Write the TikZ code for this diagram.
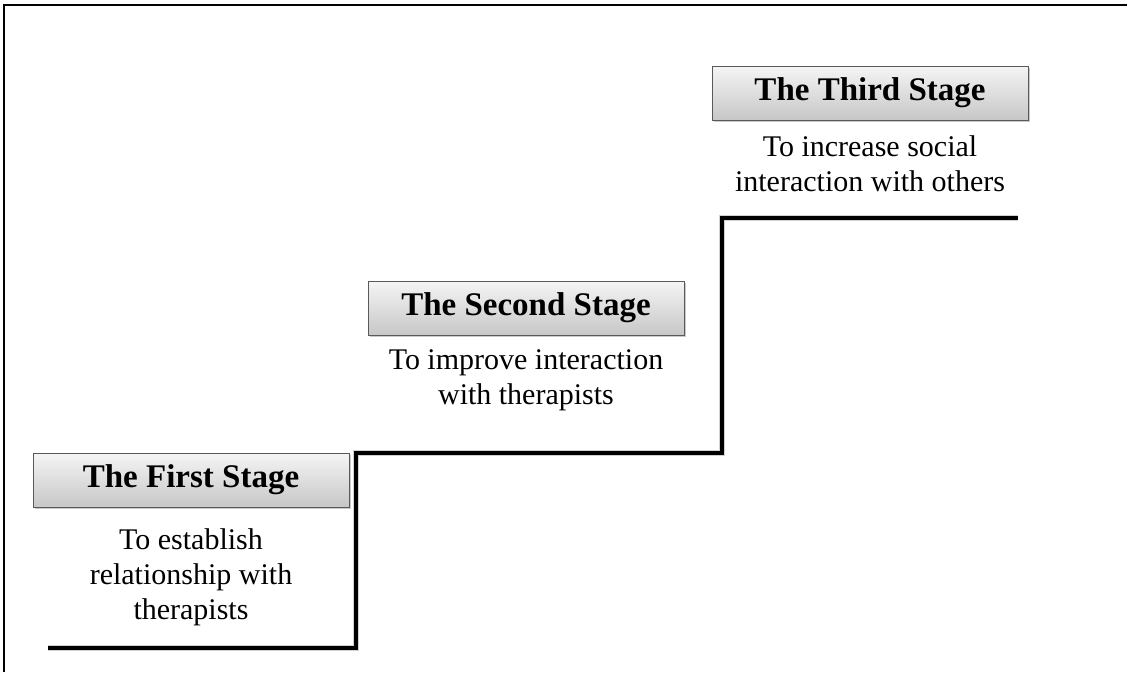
\documentclass[tikz,border=0pt]{standalone}
\usepackage{fontspec}
\setmainfont{Liberation Serif}
\usetikzlibrary{shadows}
\begin{document}
\begin{tikzpicture}[x=1pt,y=-1pt,
  stagebox/.style={draw=black!65, line width=1pt, minimum width=316pt, minimum height=54pt,
    top color=black!4, bottom color=black!22,
    drop shadow={shadow xshift=1.5pt, shadow yshift=-2pt, opacity=0.35, fill=black!60},
    font=\fontsize{33}{38}\selectfont\bfseries, inner sep=0pt},
  goal/.style={align=center, font=\fontsize{30}{35}\selectfont, inner sep=0pt, anchor=north},
  stair/.style={line width=4.8pt, line join=miter, black},
  stairshade/.style={line width=6pt, black, opacity=0.18}]
\useasboundingbox (0,0) rectangle (1127,672);
% frame edges
\draw[line width=1.2pt] (4,672) -- (4,5) -- (1127,5);
% stair outline
\coordinate (s0) at (48,648);
\coordinate (s1) at (356,648);
\coordinate (s2) at (356,453);
\coordinate (s3) at (722,453);
\coordinate (s4) at (722,218);
\coordinate (s5) at (1018,218);
\draw[stairshade, shift={(1.5pt,-2.5pt)}] (s0) -- (s1) -- (s2) -- (s3) -- (s4) -- (s5);
\draw[stair] (s0) -- (s1) -- (s2) -- (s3) -- (s4) -- (s5);
% stage titles
\node[stagebox] (t1) at (191,480) {The First Stage};
\node[stagebox] (t2) at (526,308) {The Second Stage};
\node[stagebox] (t3) at (870,93) {The Third Stage};
% stage goals
\node[goal] (g1) at (191,528) {To establish\\relationship with\\therapists};
\node[goal] (g2) at (526,349) {To improve interaction\\with therapists};
\node[goal] (g3) at (870,135) {To increase social\\interaction with others};
\end{tikzpicture}
\end{document}
